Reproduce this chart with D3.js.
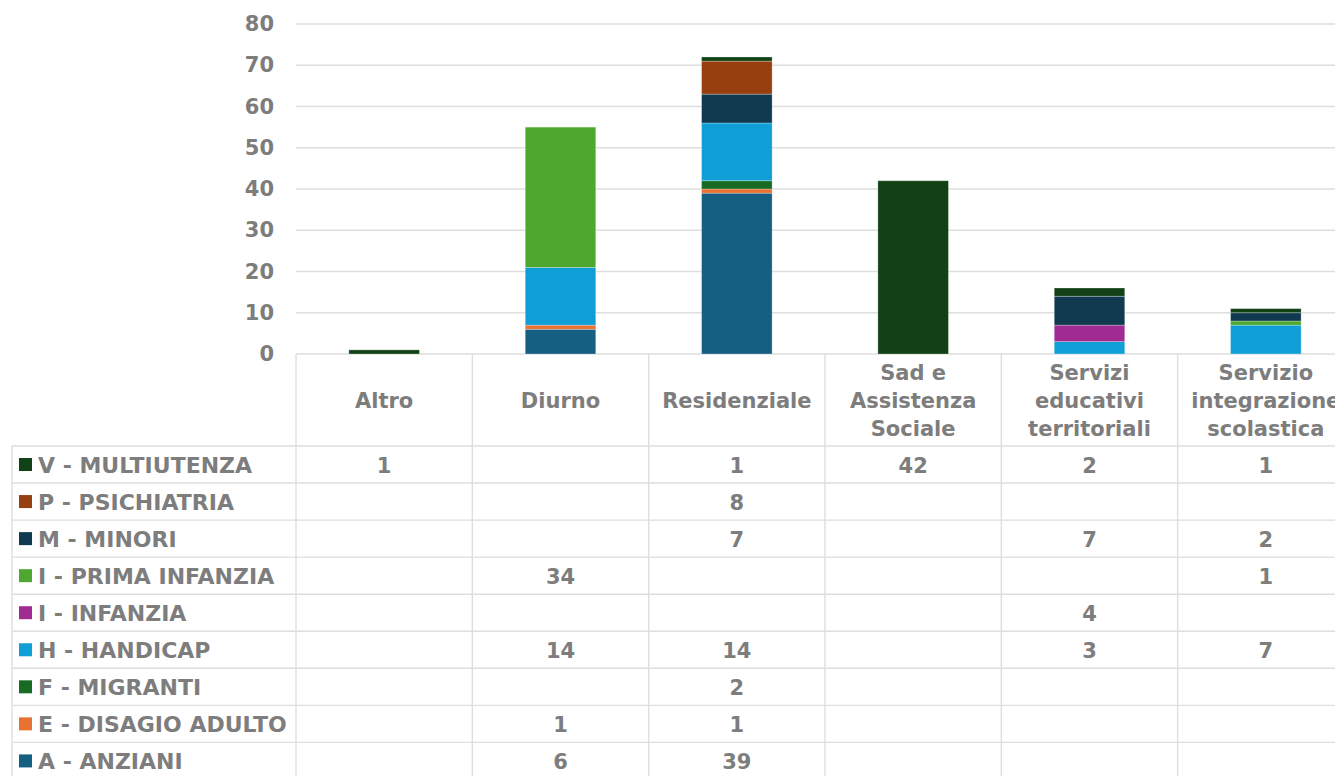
<!DOCTYPE html>
<html>
<head>
<meta charset="utf-8">
<script src="https://cdn.jsdelivr.net/npm/d3@7"></script>
<style>
  html, body { margin: 0; padding: 0; background: #fff; overflow: hidden; }
  svg { display: block; }
  text { font-family: "DejaVu Sans", sans-serif; font-weight: bold; fill: #7d7d7d; }
</style>
</head>
<body>
<svg id="chart" width="1335" height="776"></svg>
<script>
// ---- data ----
const categories = ["Altro", "Diurno", "Residenziale", "Sad e Assistenza Sociale", "Servizi educativi territoriali", "Servizio integrazione scolastica"];
const categoryLines = [["Altro"], ["Diurno"], ["Residenziale"], ["Sad e", "Assistenza", "Sociale"], ["Servizi", "educativi", "territoriali"], ["Servizio", "integrazione", "scolastica"]];
// series listed bottom-to-top in the stack
const seriesNames = ["A - ANZIANI", "E - DISAGIO ADULTO", "F - MIGRANTI", "H - HANDICAP", "I - INFANZIA", "I - PRIMA INFANZIA", "M - MINORI", "P - PSICHIATRIA", "V - MULTIUTENZA"];
const seriesColors = ["#156082", "#E97132", "#196B24", "#0F9ED5", "#A02B93", "#4EA72E", "#0F3A50", "#973F0F", "#124116"];
const anziani        = [null, 6, 39, null, null, null];
const disagioAdulto  = [null, 1, 1, null, null, null];
const migranti       = [null, null, 2, null, null, null];
const handicap       = [null, 14, 14, null, 3, 7];
const infanzia       = [null, null, null, null, 4, null];
const primaInfanzia  = [null, 34, null, null, null, 1];
const minori         = [null, null, 7, null, 7, 2];
const psichiatria    = [null, null, 8, null, null, null];
const multiutenza    = [1, null, 1, 42, 2, 1];
const seriesValues = [anziani, disagioAdulto, migranti, handicap, infanzia, primaInfanzia, minori, psichiatria, multiutenza];
const yTicks = [0, 10, 20, 30, 40, 50, 60, 70, 80];

// ---- layout ----
const svg = d3.select("#chart");
const plotLeft = 296, plotRight = 1354, plotTop = 24, plotBottom = 354;
const headerBottom = 446, rowH = 37.05, tableLeft = 12;
const gridColor = "#dedede";

const x = d3.scaleBand().domain(categories).range([plotLeft, plotRight]).padding(0);
const y = d3.scaleLinear().domain([0, 80]).range([plotBottom, plotTop]);

// gridlines
svg.append("g").selectAll("line").data(yTicks).join("line")
  .attr("x1", plotLeft).attr("x2", plotRight)
  .attr("y1", d => y(d)).attr("y2", d => y(d))
  .attr("stroke", gridColor).attr("stroke-width", 1.4);

// y axis labels
const yAxis = d3.axisLeft(y).tickValues(yTicks).tickSize(0).tickPadding(0);
const yg = svg.append("g").attr("transform", `translate(${274},0)`).call(yAxis);
yg.select(".domain").remove();
yg.selectAll("text").attr("font-size", 21).attr("font-family", "DejaVu Sans").attr("font-weight", "bold").attr("fill", "#7d7d7d");

// stacked data
const rows = categories.map((c, i) => {
  const o = { cat: c };
  seriesNames.forEach((s, j) => { o[s] = seriesValues[j][i] || 0; });
  return o;
});
const stack = d3.stack().keys(seriesNames)(rows);
const bw = x.bandwidth();
const barW = bw * 0.4;

svg.append("g").selectAll("g").data(stack).join("g")
  .attr("fill", (d, i) => seriesColors[i])
  .selectAll("rect").data(d => d.filter(p => p[1] - p[0] > 0)).join("rect")
  .attr("x", d => x(d.data.cat) + bw * 0.3)
  .attr("width", barW)
  .attr("y", d => y(d[1]))
  .attr("height", d => y(d[0]) - y(d[1]))
  .attr("stroke", "#ffffff").attr("stroke-opacity", 0.35).attr("stroke-width", 0.8);

// ---- data table ----
const nRows = seriesNames.length;
const tableBottom = headerBottom + nRows * rowH;
const table = svg.append("g");

// vertical lines at column boundaries
const colEdges = categories.map(c => x(c)).concat([plotRight]);
table.selectAll("line.v").data(colEdges).join("line")
  .attr("class", "v")
  .attr("x1", d => d).attr("x2", d => d)
  .attr("y1", plotBottom).attr("y2", tableBottom)
  .attr("stroke", gridColor).attr("stroke-width", 1.4);
// legend column left border
table.append("line")
  .attr("x1", tableLeft).attr("x2", tableLeft)
  .attr("y1", headerBottom).attr("y2", tableBottom)
  .attr("stroke", gridColor).attr("stroke-width", 1.4);
// horizontal lines
table.selectAll("line.h").data(d3.range(nRows + 1)).join("line")
  .attr("class", "h")
  .attr("x1", tableLeft).attr("x2", plotRight)
  .attr("y1", d => headerBottom + d * rowH).attr("y2", d => headerBottom + d * rowH)
  .attr("stroke", gridColor).attr("stroke-width", 1.4);

// header labels
const headerMid = (plotBottom + headerBottom) / 2 + 1;
const lineH = 28;
categories.forEach((c, i) => {
  const lines = categoryLines[i];
  const t = table.append("text")
    .attr("text-anchor", "middle")
    .attr("font-size", 21);
  lines.forEach((ln, k) => {
    t.append("tspan")
      .attr("x", x(c) + bw / 2)
      .attr("y", headerMid + (k - (lines.length - 1) / 2) * lineH)
      .attr("dominant-baseline", "central")
      .text(ln);
  });
});

// rows (top to bottom = reverse stack order)
const rowOrder = d3.range(nRows).reverse();
rowOrder.forEach((si, r) => {
  const cy = headerBottom + r * rowH + rowH / 2;
  table.append("rect")
    .attr("x", 19).attr("y", cy - 6.5)
    .attr("width", 13).attr("height", 13)
    .attr("fill", seriesColors[si]);
  table.append("text")
    .attr("x", 38).attr("y", cy + 1)
    .attr("dominant-baseline", "central")
    .attr("font-size", 22)
    .text(seriesNames[si]);
  seriesValues[si].forEach((v, ci) => {
    if (v == null) return;
    table.append("text")
      .attr("x", x(categories[ci]) + bw / 2)
      .attr("y", cy + 1)
      .attr("text-anchor", "middle")
      .attr("dominant-baseline", "central")
      .attr("font-size", 21)
      .text(v);
  });
});
</script>
</body>
</html>
